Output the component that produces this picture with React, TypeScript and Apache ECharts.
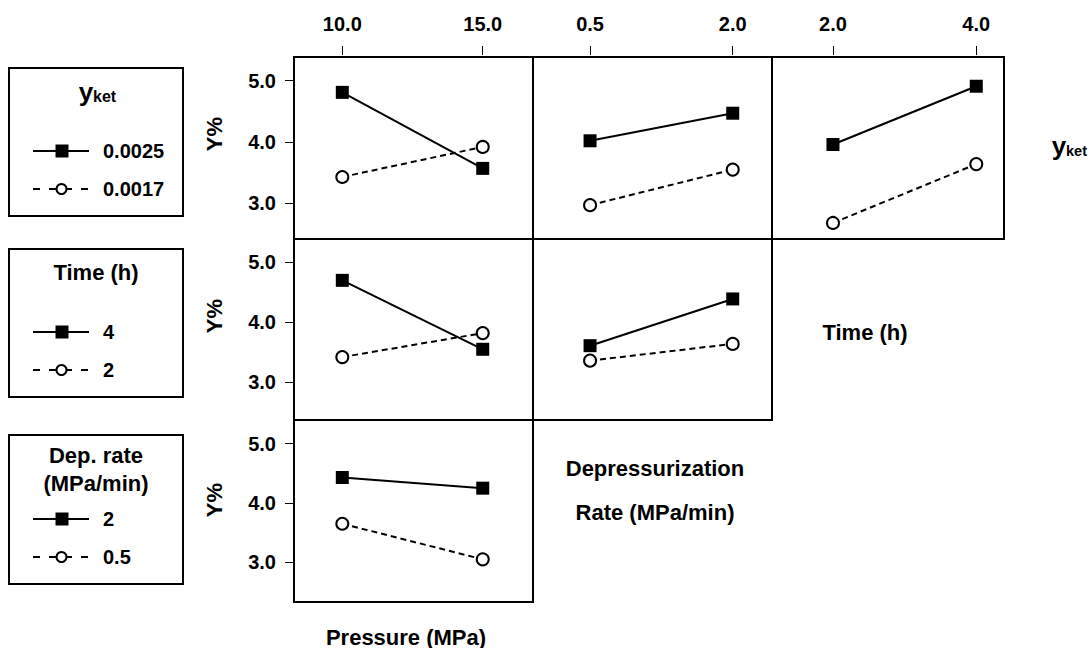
import React, { useEffect, useRef } from "react";
import * as echarts from "echarts";

// ---- factor levels (x) ----
const pressureLevels = [10, 15];
const depRateLevels = [0.5, 2.0];
const timeLevels = [2, 4];
const pressureTickLabels = ["10.0", "15.0"];
const depRateTickLabels = ["0.5", "2.0"];
const timeTickLabels = ["2.0", "4.0"];
const yTickValues = [3, 4, 5];
const yTickLabels = ["3.0", "4.0", "5.0"];

// ---- row 1: y_ket (0.0025 solid, 0.0017 dashed) ----
const ketHigh_vsPressure = [4.81, 3.57];
const ketLow_vsPressure = [3.43, 3.92];
const ketHigh_vsDepRate = [4.02, 4.47];
const ketLow_vsDepRate = [2.97, 3.55];
const ketHigh_vsTime = [3.96, 4.91];
const ketLow_vsTime = [2.68, 3.64];

// ---- row 2: Time (4 solid, 2 dashed) ----
const time4_vsPressure = [4.7, 3.55];
const time2_vsPressure = [3.42, 3.82];
const time4_vsDepRate = [3.61, 4.39];
const time2_vsDepRate = [3.36, 3.64];

// ---- row 3: Dep. rate (2 solid, 0.5 dashed) ----
const dep2_vsPressure = [4.43, 4.25];
const dep05_vsPressure = [3.65, 3.05];

const FONT = "'Liberation Sans', Arial, Helvetica, sans-serif";

const pairs = (xs: number[], ys: number[]) => xs.map((x, i) => [x, ys[i]]);

function solidSeries(grid: number, xs: number[], ys: number[]) {
  return {
    type: "line",
    xAxisIndex: grid,
    yAxisIndex: grid,
    data: pairs(xs, ys),
    symbol: "rect",
    symbolSize: 13,
    itemStyle: { color: "#000" },
    lineStyle: { color: "#000", width: 2, type: "solid" },
    z: 3,
  };
}
function dashedSeries(grid: number, xs: number[], ys: number[]) {
  return {
    type: "line",
    xAxisIndex: grid,
    yAxisIndex: grid,
    data: pairs(xs, ys),
    symbol: "circle",
    symbolSize: 12,
    itemStyle: { color: "#fff", borderColor: "#000", borderWidth: 2 },
    lineStyle: { color: "#000", width: 2, type: [6, 4] },
    z: 2,
  };
}

export default function App() {
  const ref = useRef<HTMLDivElement>(null);

  useEffect(() => {
    document.body.style.margin = "0";
    const chart = echarts.init(ref.current!, undefined, { renderer: "svg" });

    // grids: [left, top, width, height]
    const gridBoxes = [
      [294, 57, 239, 182],
      [533, 57, 239, 182],
      [772, 57, 232, 182],
      [294, 239, 239, 181],
      [533, 239, 239, 181],
      [294, 420, 239, 182],
    ];
    const colOf = [0, 1, 2, 0, 1, 0];
    const rowOf = [0, 0, 0, 1, 1, 2];
    const xRanges = [
      [8.28, 16.79],
      [-0.1, 2.413],
      [1.149, 4.387],
    ];
    const xLevels = [pressureLevels, depRateLevels, timeLevels];
    const xLabels = [pressureTickLabels, depRateTickLabels, timeTickLabels];
    const yRanges = [
      [2.418, 5.387],
      [2.37, 5.39],
      [2.33, 5.4],
    ];

    const grid = gridBoxes.map((b) => ({
      left: b[0],
      top: b[1],
      width: b[2],
      height: b[3],
      show: true,
      borderColor: "#000",
      borderWidth: 2,
      backgroundColor: "transparent",
      containLabel: false,
    }));

    const xAxis = gridBoxes.map((_, i) => {
      const c = colOf[i];
      const top = rowOf[i] === 0;
      return {
        type: "value",
        gridIndex: i,
        position: "top",
        min: xRanges[c][0],
        max: xRanges[c][1],
        offset: 2,
        axisLine: { show: false },
        splitLine: { show: false },
        axisTick: {
          show: top,
          length: 9,
          customValues: xLevels[c],
          lineStyle: { color: "#000", width: 1 },
        },
        axisLabel: {
          show: top,
          customValues: xLevels[c],
          margin: 21,
          color: "#000",
          fontFamily: FONT,
          fontWeight: "bold",
          fontSize: 20,
          formatter: (v: number) => {
            const k = xLevels[c].indexOf(v);
            return k >= 0 ? xLabels[c][k] : "";
          },
        },
      };
    });

    const yAxis = gridBoxes.map((_, i) => {
      const r = rowOf[i];
      const left = colOf[i] === 0;
      return {
        type: "value",
        gridIndex: i,
        position: "left",
        min: yRanges[r][0],
        max: yRanges[r][1],
        offset: 1,
        axisLine: { show: false },
        splitLine: { show: false },
        axisTick: {
          show: left,
          length: 8,
          customValues: yTickValues,
          lineStyle: { color: "#000", width: 1 },
        },
        axisLabel: {
          show: left,
          customValues: yTickValues,
          margin: 17,
          color: "#000",
          fontFamily: FONT,
          fontWeight: "bold",
          fontSize: 20,
          formatter: (v: number) => {
            const k = yTickValues.indexOf(v);
            return k >= 0 ? yTickLabels[k] : "";
          },
        },
      };
    });

    const series = [
      solidSeries(0, pressureLevels, ketHigh_vsPressure),
      dashedSeries(0, pressureLevels, ketLow_vsPressure),
      solidSeries(1, depRateLevels, ketHigh_vsDepRate),
      dashedSeries(1, depRateLevels, ketLow_vsDepRate),
      solidSeries(2, timeLevels, ketHigh_vsTime),
      dashedSeries(2, timeLevels, ketLow_vsTime),
      solidSeries(3, pressureLevels, time4_vsPressure),
      dashedSeries(3, pressureLevels, time2_vsPressure),
      solidSeries(4, depRateLevels, time4_vsDepRate),
      dashedSeries(4, depRateLevels, time2_vsDepRate),
      solidSeries(5, pressureLevels, dep2_vsPressure),
      dashedSeries(5, pressureLevels, dep05_vsPressure),
    ];

    const txt = (
      x: number,
      y: number,
      text: string,
      size: number,
      align = "center",
      weight = "bold",
      rotation = 0
    ) => ({
      type: "text",
      x,
      y,
      rotation,
      style: {
        text,
        fill: "#000",
        font: `${weight} ${size}px ${FONT}`,
        align,
        verticalAlign: "middle",
      },
    });

    const legendBox = (top: number, bottom: number) => ({
      type: "rect",
      shape: { x: 9, y: top, width: 174, height: bottom - top },
      style: { fill: "none", stroke: "#000", lineWidth: 2 },
    });
    const solidSample = (y: number) => [
      {
        type: "line",
        shape: { x1: 33, y1: y, x2: 89, y2: y },
        style: { stroke: "#000", lineWidth: 2 },
      },
      {
        type: "rect",
        shape: { x: 55.5, y: y - 6.5, width: 13, height: 13 },
        style: { fill: "#000" },
      },
    ];
    const dashedSample = (y: number) => [
      {
        type: "line",
        shape: { x1: 33, y1: y, x2: 89, y2: y },
        style: { stroke: "#000", lineWidth: 2, lineDash: [7, 9] },
      },
      {
        type: "circle",
        shape: { cx: 61.5, cy: y, r: 5 },
        style: { fill: "#fff", stroke: "#000", lineWidth: 2 },
      },
    ];

    const ylabels = [134, 316, 500];

    const graphic = [
      // legend 1: y_ket
      legendBox(68, 216),
      txt(86, 92, "y", 26, "center", "bold"),
      txt(93, 96, "ket", 16, "left", "bold"),
      ...solidSample(151),
      txt(103, 151, "0.0025", 20, "left"),
      ...dashedSample(189),
      txt(103, 189, "0.0017", 20, "left"),
      // legend 2: Time
      legendBox(249, 397),
      txt(96, 272, "Time (h)", 22),
      ...solidSample(332),
      txt(103, 332, "4", 20, "left"),
      ...dashedSample(370),
      txt(103, 370, "2", 20, "left"),
      // legend 3: Dep. rate
      legendBox(435, 584),
      txt(96, 455, "Dep. rate", 22),
      txt(96, 483, "(MPa/min)", 22),
      ...solidSample(519),
      txt(103, 519, "2", 20, "left"),
      ...dashedSample(557),
      txt(103, 557, "0.5", 20, "left"),
      // Y% labels
      ...ylabels.map((y) => txt(214, y, "Y%", 22, "center", "bold", Math.PI / 2)),
      // factor names
      txt(1059, 146, "y", 26, "center", "bold"),
      txt(1066, 151, "ket", 14.5, "left", "bold"),
      txt(865, 332, "Time (h)", 22),
      txt(655, 468, "Depressurization", 22),
      txt(655, 512, "Rate (MPa/min)", 22),
      txt(406, 637, "Pressure (MPa)", 22),
    ];

    chart.setOption({
      animation: false,
      backgroundColor: "#fff",
      grid,
      xAxis,
      yAxis,
      series,
      graphic,
    });

    return () => chart.dispose();
  }, []);

  return <div ref={ref} style={{ width: 1089, height: 648 }} />;
}
